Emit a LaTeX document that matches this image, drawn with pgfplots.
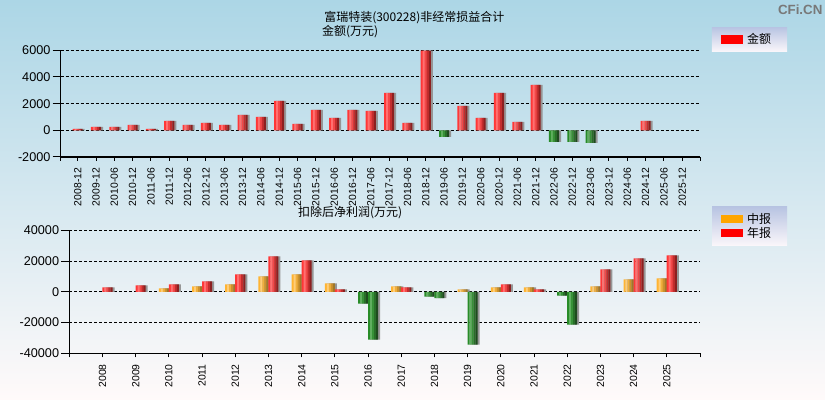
\documentclass[border=0pt]{standalone}
\usepackage{fontspec}
\setmainfont{Liberation Sans}
\newfontfamily\cjk{Noto Sans CJK SC}
\usepackage{pgfplots}
\usepackage{pgfplotstable}
\pgfplotsset{compat=1.18}
\definecolor{bgtop}{RGB}{172,214,230}
\definecolor{bgbot}{RGB}{255,250,250}
\definecolor{lgtop}{RGB}{184,196,226}
\definecolor{lgbot}{RGB}{250,246,250}
\definecolor{lgred}{RGB}{255,0,0}
\definecolor{lgorange}{RGB}{255,165,0}
\definecolor{rA}{RGB}{255,55,55}
\definecolor{rB}{RGB}{255,112,112}
\definecolor{rC}{RGB}{242,72,72}
\definecolor{rD}{RGB}{195,45,45}
\definecolor{rE}{RGB}{140,32,32}
\definecolor{gA}{RGB}{40,140,40}
\definecolor{gB}{RGB}{95,175,95}
\definecolor{gC}{RGB}{55,145,55}
\definecolor{gD}{RGB}{40,110,40}
\definecolor{gE}{RGB}{30,75,30}
\definecolor{oA}{RGB}{255,180,50}
\definecolor{oB}{RGB}{255,205,120}
\definecolor{oC}{RGB}{240,175,60}
\definecolor{oD}{RGB}{205,145,45}
\definecolor{oE}{RGB}{160,120,40}
\definecolor{shd}{RGB}{150,150,150}

% top chart: non-recurring gains and losses (10k CNY)
\pgfplotstableread{
x y
0 100
1 250
2 250
3 400
4 100
5 700
6 400
7 550
8 400
9 1150
10 1000
11 2200
12 475
13 1525
14 925
15 1525
16 1450
17 2800
18 550
19 5975
21 1825
22 925
23 2800
24 625
25 3400
31 700
}\topPos
\pgfplotstableread{
x y
20 -500
26 -875
27 -875
28 -950
}\topNeg
% bottom chart: deducted net profit, interim (中报)
\pgfplotstableread{
x y
2 2170
3 3480
4 4780
5 10000
6 11300
7 5430
9 3480
11 1520
12 2830
13 2830
15 3480
16 8040
17 8700
}\midPos
\pgfplotstableread{
x y
8 -7600
10 -3040
14 -2390
}\midNeg
% bottom chart: deducted net profit, annual (年报)
\pgfplotstableread{
x y
0 2830
1 4130
2 4780
3 6740
4 11300
5 23000
6 20400
7 1520
9 2830
12 4780
13 1520
15 14570
16 21740
17 23700
}\annPos
\pgfplotstableread{
x y
8 -31100
10 -4130
11 -34350
14 -21300
}\annNeg

% shaded cylinder-like bars, made of five stripes
\newcommand\cyl[3]{%
  \addplot[draw=none, fill=#3A, bar width=1.6pt, bar shift={#2-3pt}, forget plot] table {#1};
  \addplot[draw=none, fill=#3B, bar width=1.6pt, bar shift={#2-1.5pt}, forget plot] table {#1};
  \addplot[draw=none, fill=#3C, bar width=1.6pt, bar shift={#2}, forget plot] table {#1};
  \addplot[draw=none, fill=#3D, bar width=1.6pt, bar shift={#2+1.5pt}, forget plot] table {#1};
  \addplot[draw=none, fill=#3E, bar width=1.5pt, bar shift={#2+3pt}, forget plot] table {#1};
}
\newcommand\shadow[2]{%
  \addplot[draw=none, fill=shd, bar width=7.5pt, bar shift={#2+1.5pt}, forget plot] table {#1};
}

\pgfplotsset{
  cfi/.style={
    scale only axis,
    axis x line*=bottom, axis y line*=left,
    axis line style={black, line width=1pt, -},
    tick align=outside,
    major tick length=6pt,
    tick style={black, line width=0.75pt},
    xtick style={/pgfplots/major tick length=3pt},
    ymajorgrids,
    grid style={black, line width=0.75pt, dash pattern=on 2.25pt off 1.5pt},
    yticklabel style={font=\fontsize{9.5}{10}\selectfont, inner sep=1.5pt},
    xticklabel style={font=\fontsize{7.8}{8}\selectfont, rotate=90, anchor=east, inner sep=2pt},
    scaled y ticks=false,
    ybar, bar width=7.5pt,
    clip=false,
    legend cell align=left,
  },
}
\begin{document}
\begin{tikzpicture}
\useasboundingbox (0,0) rectangle (618.75pt,300pt);
\shade[top color=bgtop, bottom color=bgbot] (0,0) rectangle (618.75pt,300pt);
\node[anchor=west, inner sep=0pt, font=\cjk\fontsize{9}{10}\selectfont] at (243pt,286.9pt) {富瑞特装(300228)非经常损益合计};
\node[anchor=west, inner sep=0pt, font=\cjk\fontsize{9}{10}\selectfont] at (241.3pt,276pt) {金额(万元)};
\node[anchor=west, inner sep=0pt, font=\cjk\fontsize{9}{10}\selectfont] at (223.3pt,140.5pt) {扣除后净利润(万元)};
\node[anchor=west, inner sep=0pt, text={rgb,255:red,120;green,120;blue,120}, font=\bfseries\fontsize{10}{10}\selectfont] at (583.3pt,292.5pt) {CFi.CN};

\begin{axis}[cfi,
  at={(45.5pt,182.25pt)}, anchor=south west,
  width=479.5pt, height=80pt,
  xmin=-0.93, xmax=33.97, ymin=-2000, ymax=6000,
  ytick={-2000,0,2000,4000,6000},
  yticklabels={-2000,0,2000,4000,6000},
  xtick={0,...,33},
  xticklabels={2008-12,2009-12,2010-06,2010-12,2011-06,2011-12,2012-06,2012-12,2013-06,2013-12,2014-06,2014-12,2015-06,2015-12,2016-06,2016-12,2017-06,2017-12,2018-06,2018-12,2019-06,2019-12,2020-06,2020-12,2021-06,2021-12,2022-06,2022-12,2023-06,2023-12,2024-06,2024-12,2025-06,2025-12},
  extra x ticks={-0.93,33.97}, extra x tick labels={},
  extra x tick style={grid=none},
  legend style={at={(1.0183,1.218)}, anchor=north west, draw=none,
    top color=lgtop, bottom color=lgbot,
    font=\cjk\fontsize{9}{10}\selectfont, inner xsep=7pt, inner ysep=2.5pt,
    nodes={inner xsep=3pt, inner ysep=2pt, text height=7.5pt, text depth=1.5pt, text width=20pt, align=left}},
]
\shadow{\topPos}{0pt}
\shadow{\topNeg}{0pt}
\cyl{\topPos}{0pt}{r}
\cyl{\topNeg}{0pt}{g}
\addlegendimage{legend image code/.code={\pgfsetfillcolor{lgred}\pgfpathrectangle{\pgfpoint{0pt}{-3.4pt}}{\pgfpoint{16.3pt}{6.8pt}}\pgfusepath{fill}}}
\addlegendentry{金额}
\end{axis}

\begin{axis}[cfi,
  at={(52pt,35pt)}, anchor=south west,
  width=473pt, height=92.25pt,
  xmin=-1, xmax=18, ymin=-40000, ymax=40000,
  ytick={-40000,-20000,0,20000,40000},
  yticklabels={-40000,-20000,0,20000,40000},
  xtick={0,...,17},
  xticklabels={2008,2009,2010,2011,2012,2013,2014,2015,2016,2017,2018,2019,2020,2021,2022,2023,2024,2025},
  extra x ticks={-1,18}, extra x tick labels={},
  extra x tick style={grid=none},
  legend style={at={(1.0186,1.192)}, anchor=north west, draw=none,
    top color=lgtop, bottom color=lgbot,
    font=\cjk\fontsize{9}{10}\selectfont, inner xsep=7pt, inner ysep=3.85pt,
    nodes={inner xsep=3pt, inner ysep=0.75pt, text height=7.5pt, text depth=1.5pt, text width=20pt, align=left}},
]
\shadow{\midPos}{-3.75pt}
\shadow{\midNeg}{-3.75pt}
\cyl{\midPos}{-3.75pt}{o}
\cyl{\midNeg}{-3.75pt}{g}
\shadow{\annPos}{3.75pt}
\shadow{\annNeg}{3.75pt}
\cyl{\annPos}{3.75pt}{r}
\cyl{\annNeg}{3.75pt}{g}
\addlegendimage{legend image code/.code={\pgfsetfillcolor{lgorange}\pgfpathrectangle{\pgfpoint{0pt}{-3.1pt}}{\pgfpoint{16.3pt}{6.2pt}}\pgfusepath{fill}}}
\addlegendentry{中报}
\addlegendimage{legend image code/.code={\pgfsetfillcolor{lgred}\pgfpathrectangle{\pgfpoint{0pt}{-3.1pt}}{\pgfpoint{16.3pt}{6.2pt}}\pgfusepath{fill}}}
\addlegendentry{年报}
\end{axis}
\end{tikzpicture}
\end{document}
